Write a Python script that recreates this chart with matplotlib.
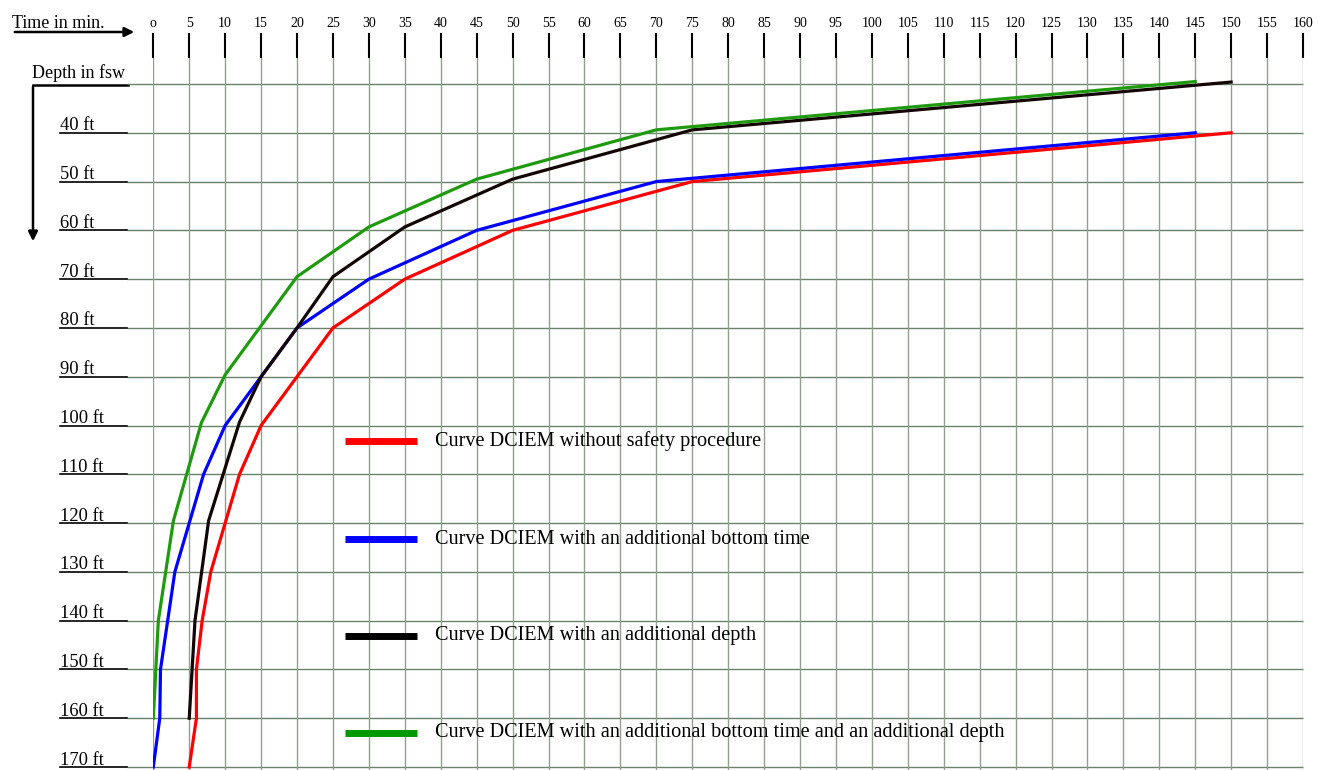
import matplotlib.pyplot as plt

plt.rcParams['font.family'] = ['Liberation Serif', 'DejaVu Serif']

# ---------------- données ----------------
time_red = [5, 6, 6, 6.8, 8, 10, 12, 15, 25, 35, 50, 75, 150]
depth_red = [170, 160, 150, 140, 130, 120, 110, 100, 80, 70, 60, 50, 40]

time_blue = [0, 0.9, 1, 3, 7, 10, 20, 30, 45, 70, 145]
depth_blue = [170, 160, 150, 130, 110, 100, 80, 70, 60, 50, 40]

time_black = [5, 5.8, 7.7, 12, 15, 20, 25, 35, 50, 75, 150]
depth_black = [160, 140, 119.5, 99.3, 90, 80, 69.5, 59.3, 49.5, 39.4, 29.6]

time_green = [0, 0.7, 2.8, 6.7, 10, 20, 30, 45, 70, 145]
depth_green = [160, 140, 119.5, 99.4, 89.6, 69.5, 59.3, 49.5, 39.4, 29.5]

labels = [
    "Curve DCIEM without safety procedure",
    "Curve DCIEM with an additional bottom time",
    "Curve DCIEM with an additional depth",
    "Curve DCIEM with an additional bottom time and an additional depth",
]
colors = ["#ff0000", "#0000ff", "#140505", "#1f9a0f"]
legend_colors = ["#ff0000", "#0000ff", "#000000", "#009900"]

time_ticks = list(range(0, 165, 5))
time_labels = ["o"] + [str(t) for t in time_ticks[1:]]
depth_levels = list(range(30, 180, 10))
depth_labels = [d for d in depth_levels if d >= 40]

W, H = 1325, 770
fig = plt.figure(figsize=(W / 100, H / 100), dpi=100)

# calque en pixels pour les flèches et titres d'axes
ov = fig.add_axes([0, 0, 1, 1])
ov.set_xlim(0, W)
ov.set_ylim(H, 0)
ov.axis("off")

# zone du graphique : 0 min -> x=153, 160 min -> x=1303 ; 30 ft -> y=84, 170 ft -> y=767
x0, x1 = 153.3, 1303.0
px_per_min = (x1 - x0) / 160
px_per_ft = (767 - 84) / 140
top_px = 58
ax = fig.add_axes([x0 / W, 0, (x1 - x0) / W, (H - top_px) / H])
ax.set_xlim(0, 160)
ax.set_ylim(30 + (H - 84) / px_per_ft, 30 - (84 - top_px) / px_per_ft)
ax.patch.set_alpha(0)
for s in ax.spines.values():
    s.set_visible(False)

# axe du temps en haut
ax.xaxis.tick_top()
ax.set_xticks(time_ticks)
ax.set_xticklabels(time_labels, fontsize=10)
ax.tick_params(axis="x", length=18, width=1.5, color="black", pad=2.5, direction="out")
ax.set_yticks([])
ax.grid(axis="x", color="#8fa08f", lw=1.0)

# lignes horizontales + étiquettes de profondeur
left_grid = (127 - x0) / px_per_min
left_text = (60 - x0) / px_per_min
ax.hlines(depth_levels, left_grid, 160, color="#6b836b", lw=1, clip_on=False, zorder=1)
for d in depth_labels:
    ax.plot([left_text, left_grid], [d, d], color="black", lw=1.2, clip_on=False)
    ax.text(left_text, d - 0.5, f"{d} ft", fontsize=13.3, ha="left", va="baseline", clip_on=False)

# courbes
series = [(time_red, depth_red), (time_blue, depth_blue),
          (time_black, depth_black), (time_green, depth_green)]
for (t, d), c in zip(series, colors):
    ax.plot(t, d, color=c, lw=2.3, solid_joinstyle="miter", zorder=3)

# légende dessinée à la main, comme dans le document
legend_rows = [103.2, 123.3, 143.1, 163.0]
for row, lab, c in zip(legend_rows, labels, legend_colors):
    ax.plot([26.7, 36.7], [row, row], color=c, lw=5, solid_capstyle="butt", zorder=3)
    ax.text(39.2, row, lab, fontsize=14.6, ha="left", va="center", zorder=3)

# titres d'axes avec flèches
ov.text(12, 28, "Time in min.", fontsize=13, ha="left", va="baseline")
ov.annotate("", xy=(137, 32), xytext=(12, 32),
            arrowprops=dict(arrowstyle="-|>", lw=1.8, color="black", mutation_scale=14))
ov.text(32, 78, "Depth in fsw", fontsize=13, ha="left", va="baseline")
ov.plot([33, 128], [85, 85], color="black", lw=1.8)
ov.annotate("", xy=(33, 244), xytext=(33, 84),
            arrowprops=dict(arrowstyle="-|>", lw=1.8, color="black", mutation_scale=14))

fig.savefig("out.png", dpi=100)
